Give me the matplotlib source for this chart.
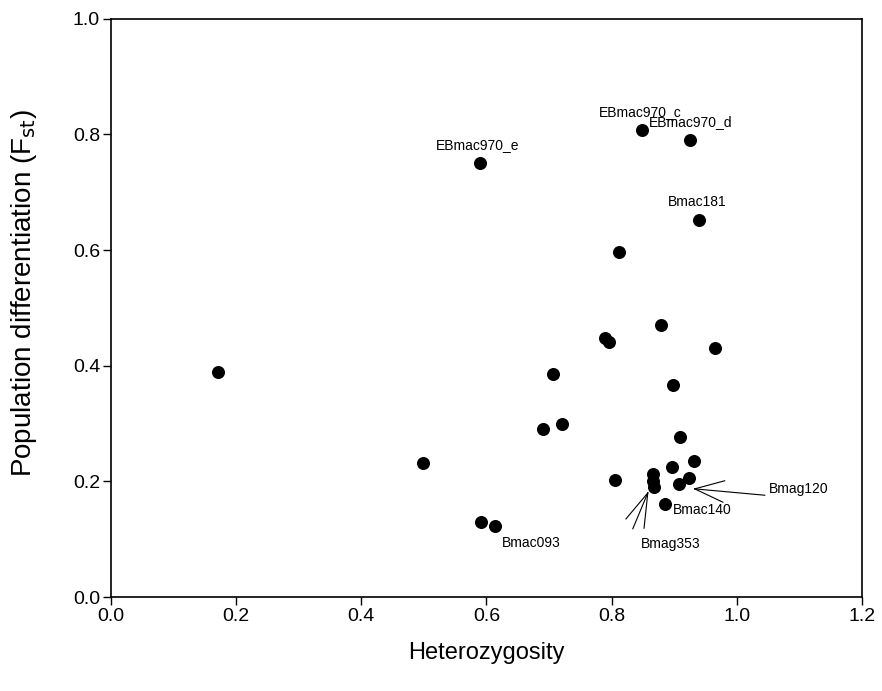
import matplotlib
matplotlib.use("Agg")
from matplotlib import pyplot as plt

plt.rcParams['font.family'] = ['Liberation Sans', 'DejaVu Sans']

# heterozygosity vs Fst, one point per marker
het = [0.171, 0.498, 0.589, 0.592, 0.614, 0.691, 0.706, 0.721, 0.790, 0.796,
       0.806, 0.812, 0.848, 0.866, 0.867, 0.868, 0.879, 0.886, 0.896, 0.899,
       0.908, 0.910, 0.924, 0.926, 0.932, 0.940, 0.966]
fst = [0.389, 0.232, 0.751, 0.130, 0.122, 0.290, 0.386, 0.299, 0.448, 0.441,
       0.202, 0.597, 0.808, 0.212, 0.200, 0.190, 0.471, 0.161, 0.225, 0.367,
       0.195, 0.276, 0.205, 0.791, 0.235, 0.652, 0.430]

# marker labels: text, x, y (data position of the text)
labels = ["EBmac970_e", "EBmac970_c", "EBmac970_d", "Bmac181",
          "Bmac093", "Bmac140", "Bmag353", "Bmag120"]
label_x = [0.519, 0.780, 0.859, 0.890, 0.625, 0.898, 0.847, 1.051]
label_y = [0.782, 0.838, 0.821, 0.683, 0.093, 0.150, 0.092, 0.187]

# leader lines (start, end) for the crowded cluster
leaders = [((0.933, 0.187), (0.981, 0.201)),
           ((0.933, 0.187), (1.045, 0.176)),
           ((0.933, 0.187), (0.978, 0.164)),
           ((0.858, 0.180), (0.823, 0.135)),
           ((0.858, 0.180), (0.834, 0.118)),
           ((0.858, 0.180), (0.852, 0.119))]

fig, ax = plt.subplots(figsize=(8.82, 6.91), dpi=100)
fig.subplots_adjust(left=0.126, right=0.977, top=0.973, bottom=0.136)

ax.scatter(het, fst, s=70, c='black', zorder=3)

for (x0, y0), (x1, y1) in leaders:
    ax.plot([x0, x1], [y0, y1], color='black', lw=0.8)

for t, x, y in zip(labels, label_x, label_y):
    ax.text(x, y, t, fontsize=10, ha='left', va='center')

ax.set_xlim(0, 1.2)
ax.set_ylim(0, 1.0)
ax.set_xticks([0.0, 0.2, 0.4, 0.6, 0.8, 1.0, 1.2])
ax.set_yticks([0.0, 0.2, 0.4, 0.6, 0.8, 1.0])
ax.xaxis.set_major_formatter(matplotlib.ticker.FormatStrFormatter('%.1f'))
ax.yaxis.set_major_formatter(matplotlib.ticker.FormatStrFormatter('%.1f'))
ax.tick_params(direction='out', length=6, width=1, labelsize=14, pad=2)
for sp in ax.spines.values():
    sp.set_linewidth(1.2)

ax.set_xlabel("Heterozygosity", fontsize=17, labelpad=12)
ax.set_ylabel("Population differentiation (F$_{\\mathrm{st}}$)", fontsize=20)
ax.yaxis.set_label_coords(-0.096, 0.525)

fig.savefig("out.png", dpi=100)
